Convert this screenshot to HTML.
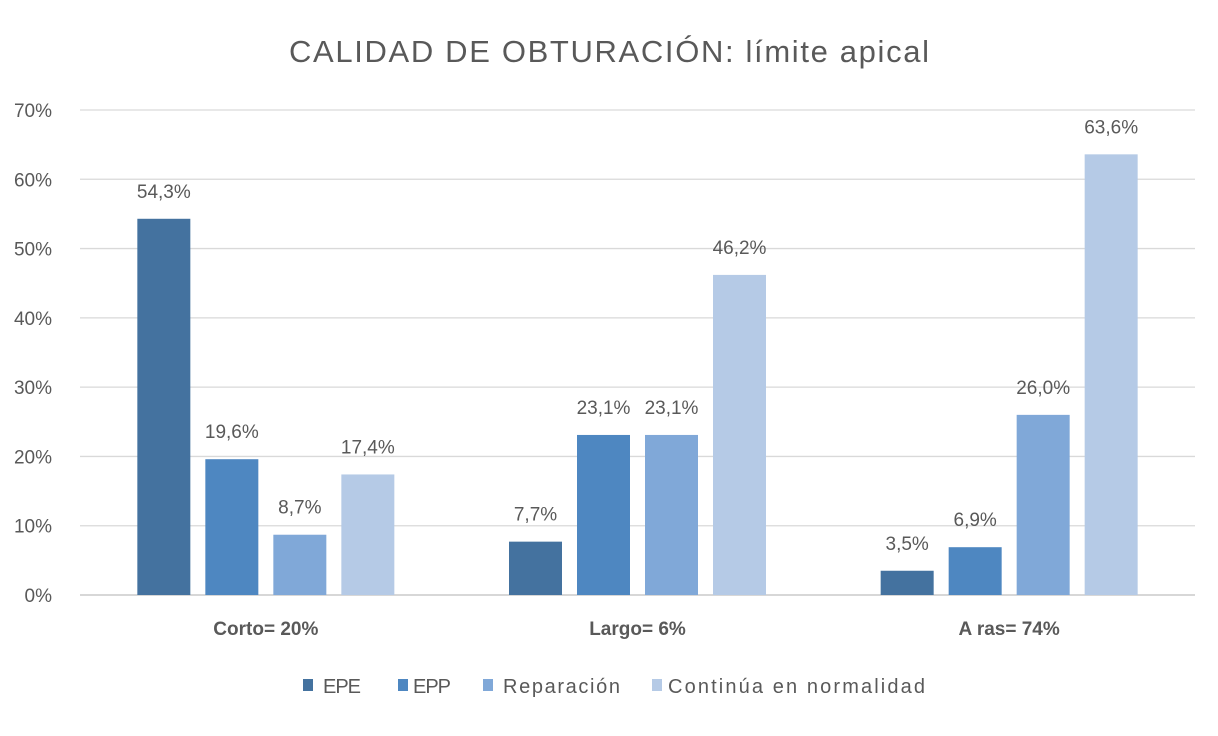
<!DOCTYPE html>
<html><head><meta charset="utf-8"><style>
body{margin:0;background:#fff;}
svg text{font-family:"Liberation Sans",sans-serif;fill:#595959;}
</style></head><body>
<svg width="1218" height="731" xmlns="http://www.w3.org/2000/svg">
<rect width="1218" height="731" fill="#fff"/>
<text x="609" y="62" text-anchor="middle" font-size="31" textLength="640">CALIDAD DE OBTURACIÓN: límite apical</text>
<g id="grid"></g><g id="bars"></g><g id="labels"></g>
<g>
<rect x="303" y="679" width="10" height="12" fill="#44729f"/>
<text x="323" y="693" font-size="20" textLength="38">EPE</text>
<rect x="398" y="679" width="10" height="12" fill="#4e87c1"/>
<text x="413" y="693" font-size="20" textLength="38">EPP</text>
<rect x="483" y="679" width="10" height="12" fill="#80a8d8"/>
<text x="503" y="693" font-size="20" textLength="117">Reparación</text>
<rect x="652" y="679" width="10" height="12" fill="#b5cae6"/>
<text x="668" y="693" font-size="20" textLength="257">Continúa en normalidad</text>
</g>
</svg>
<script>
const categories=["Corto= 20%","Largo= 6%","A ras= 74%"];
const epe=[54.3,7.7,3.5];
const epp=[19.6,23.1,6.9];
const reparacion=[8.7,23.1,26.0];
const continua=[17.4,46.2,63.6];
const yTicks=[0,10,20,30,40,50,60,70];
const series=[epe,epp,reparacion,continua];
const colors=["#44729f","#4e87c1","#80a8d8","#b5cae6"];
const names=["epe","epp","reparacion","continua"];
const NS="http://www.w3.org/2000/svg";
const x0=80,x1=1195,y0=595,yTop=110;
const y=v=>y0-(v/70)*(y0-yTop);
const gw=(x1-x0)/categories.length;
const bw=53,step=68;
const grid=document.getElementById('grid'),bars=document.getElementById('bars'),labels=document.getElementById('labels');
function mk(tag,attrs,parent,txt){const e=document.createElementNS(NS,tag);for(const k in attrs)e.setAttribute(k,attrs[k]);if(txt!==undefined)e.textContent=txt;parent.appendChild(e);return e;}
yTicks.forEach(t=>{
  const l=mk('line',{x1:x0,x2:x1,y1:y(t),y2:y(t),stroke:t===0?'#bfbfbf':'#d9d9d9','stroke-width':1.3},grid);
  
  
  const tx=mk('text',{x:52,y:y(t)+7,'text-anchor':'end','font-size':19},grid,t+'%');
  
  
});
categories.forEach((c,i)=>{
  const cx=x0+gw*(i+0.5);
  const tx=mk('text',{x:cx,y:635,'text-anchor':'middle','font-size':19,'font-weight':'bold'},labels,c);
  
  
  series.forEach((s,j)=>{
    const bx=cx-2*step+j*step+(step-bw)/2;
    const v=s[i];
    const r=mk('rect',{x:bx,y:y(v),width:bw,height:y0-y(v),fill:colors[j]},bars);
    
    
    const t=mk('text',{x:bx+bw/2,y:y(v)-21,'text-anchor':'middle','font-size':19},labels,v.toFixed(1).replace('.',',')+'%');
    
    
  });
});
</script>
</body></html>
